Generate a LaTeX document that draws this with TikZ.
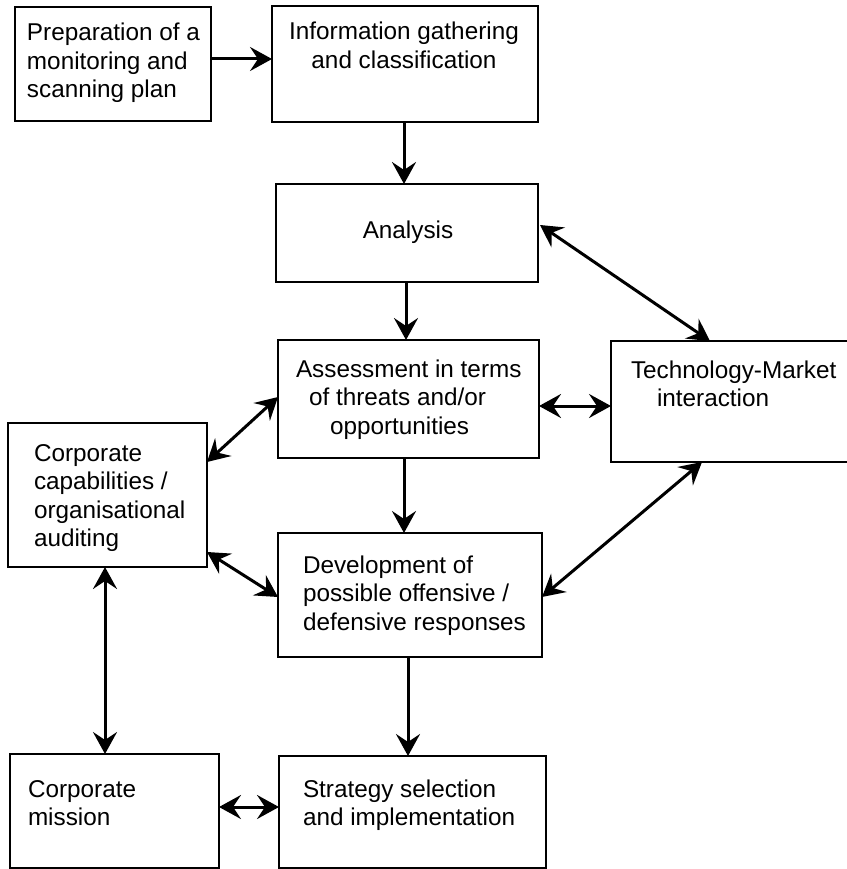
\documentclass[tikz,border=0pt]{standalone}
\usepackage{fontspec}
\setmainfont{Liberation Sans}
\usetikzlibrary{arrows.meta,calc}
\begin{document}
\begin{tikzpicture}[x=1pt,y=-1pt,
  box/.style={draw, line width=1.3pt, inner sep=0pt, outer sep=0pt, rectangle},
  lbl/.style={inner sep=0pt, outer sep=0pt, font=\fontsize{24.3}{28.5}\selectfont},
  arr/.style={line width=3pt, -{Stealth[length=22pt,width=24pt,inset=8pt]}},
  darr/.style={line width=3pt, {Stealth[length=22pt,width=24pt,inset=8pt]}-{Stealth[length=22pt,width=24pt,inset=8pt]}},
]
\useasboundingbox (0,0) rectangle (846,869);
\fill[white] (0,0) rectangle (846,869);

% boxes
\node[box, minimum width=196pt, minimum height=114pt] (b1) at (113,64) {};
\node[box, minimum width=266pt, minimum height=116pt] (b2) at (405,64) {};
\node[box, minimum width=262pt, minimum height=98pt]  (b3) at (407,233) {};
\node[box, minimum width=261pt, minimum height=118pt] (b4) at (408.5,399) {};
\node[box, minimum width=239pt, minimum height=121pt] (b5) at (730.5,401.5) {};
\node[box, minimum width=199pt, minimum height=144pt] (b6) at (107.5,495) {};
\node[box, minimum width=264pt, minimum height=124pt] (b7) at (410,595) {};
\node[box, minimum width=209pt, minimum height=114pt] (b8) at (114.5,811) {};
\node[box, minimum width=267pt, minimum height=112pt] (b9) at (412.5,812) {};

% texts
\node[lbl, anchor=base west] (t1) at (27,41)
  {\begin{tabular}[t]{@{}l@{}}Preparation of a\\monitoring and\\scanning plan\end{tabular}};
\node[lbl, anchor=base] (t2) at (404,40)
  {\begin{tabular}[t]{@{}c@{}}Information gathering\\and classification\end{tabular}};
\node[lbl, anchor=base] (t3) at (408,238) {Analysis};
\node[lbl, anchor=base west] (t4) at (296,377)
  {\begin{tabular}[t]{@{}l@{}}Assessment in terms\\\hspace*{13pt}of threats and/or\\\hspace*{34pt}opportunities\end{tabular}};
\node[lbl, anchor=base west] (t5) at (631,378)
  {\begin{tabular}[t]{@{}l@{}}Technology-Market\\\hspace*{26pt}interaction\end{tabular}};
\node[lbl, anchor=base west] (t6) at (34,461)
  {\begin{tabular}[t]{@{}l@{}}Corporate\\capabilities /\\organisational\\auditing\end{tabular}};
\node[lbl, anchor=base west] (t7) at (303,573)
  {\begin{tabular}[t]{@{}l@{}}Development of\\possible offensive /\\defensive responses\end{tabular}};
\node[lbl, anchor=base west] (t8) at (28,797)
  {\begin{tabular}[t]{@{}l@{}}Corporate\\mission\end{tabular}};
\node[lbl, anchor=base west] (t9) at (303,797)
  {\begin{tabular}[t]{@{}l@{}}Strategy selection\\and implementation\end{tabular}};

% connectors
\draw[arr]  ($(b1.east)+(0,-5)$) -- ($(b2.west)+(0,-5)$);
\draw[arr]  ($(b2.south)+(-1,0)$) -- ($(b3.north)+(-3,0)$);
\draw[arr]  ($(b3.south)+(-1,0)$) -- ($(b4.north)+(-2.5,0)$);
\draw[darr] ($(b3.east)+(2,-8)$) -- ($(b5.north west)+(99,0)$);
\draw[darr] ($(b4.east)+(0,7)$) -- ($(b5.west)+(0,4.5)$);
\draw[darr] ($(b6.east)+(0,-33)$) -- ($(b4.west)+(0,-2)$);
\draw[arr]  ($(b4.south)+(-4.5,0)$) -- ($(b7.north)+(-6,0)$);
\draw[darr] ($(b6.east)+(0,57)$) -- ($(b7.west)+(0,2)$);
\draw[darr] ($(b5.south west)+(91,0)$) -- ($(b7.east)+(0,2)$);
\draw[darr] ($(b6.south)+(-2.5,0)$) -- ($(b8.north)+(-9.5,0)$);
\draw[arr]  ($(b7.south)+(-2,0)$) -- ($(b9.north)+(-4.5,0)$);
\draw[darr] ($(b8.east)+(0,-4)$) -- ($(b9.west)+(0,-5)$);
\end{tikzpicture}
\end{document}
